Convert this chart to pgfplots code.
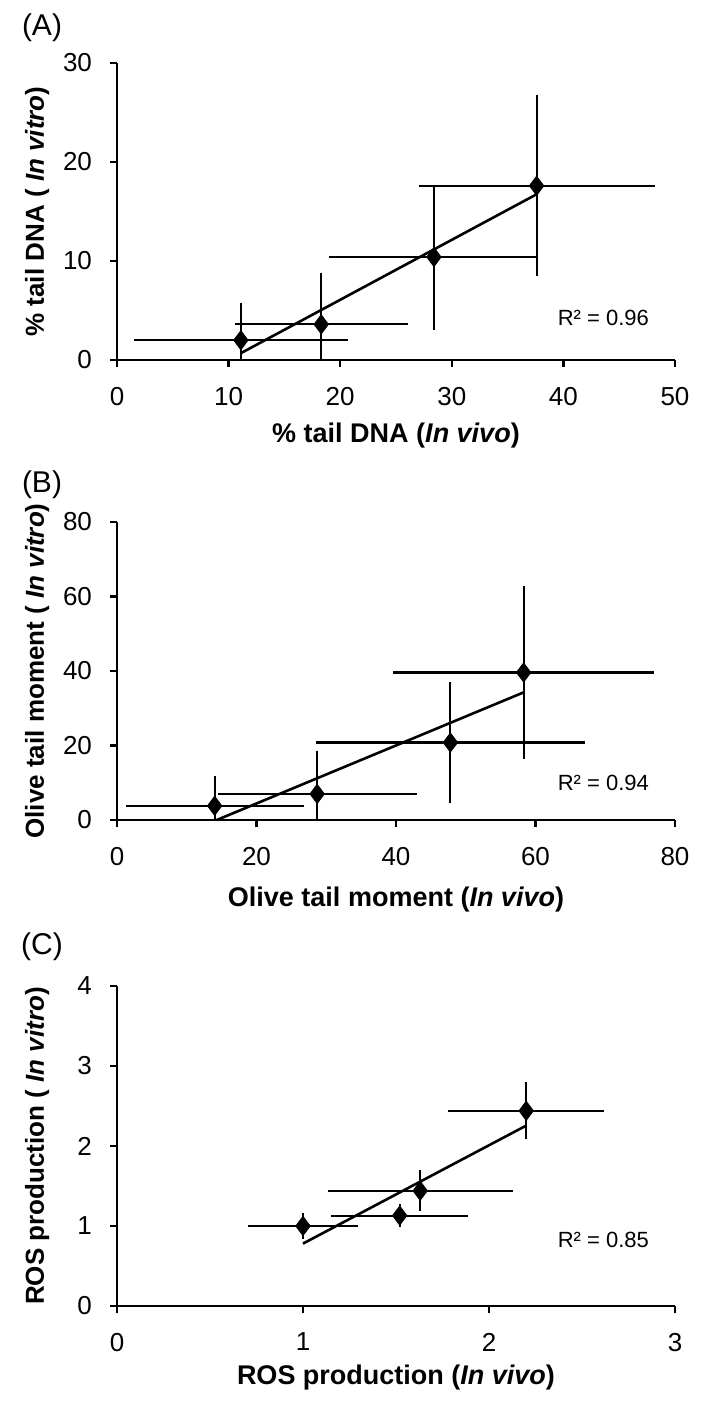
\documentclass[border=0pt]{standalone}
\usepackage{fontspec}
\setmainfont{Liberation Sans}
\usepackage{pgfplots}
\pgfplotsset{compat=1.18}

\pgfplotstableread{
x y ex ey
11.1 2.0 9.1 3.2
18.3 3.6 7.3 4.7
28.4 10.4 8.9 6.8
37.6 17.6 10.1 8.6
}\dataA
\pgfplotstableread{
x y ex ey
14.0 3.8 12.0 6.7
28.7 7.0 13.5 10.0
47.8 20.8 18.5 14.9
58.3 39.6 18.0 21.8
}\dataB
\pgfplotstableread{
x y ex ey
1.00 1.00 0.27 0.10
1.52 1.13 0.34 0.08
1.63 1.44 0.47 0.19
2.20 2.44 0.39 0.29
}\dataC

\newcommand{\ylabfont}{\fontsize{13}{15}\selectfont\bfseries}
\newcommand{\xlabfont}{\fontsize{13.5}{16}\selectfont\bfseries}
\tikzset{rsq/.style={font=\fontsize{11}{13}\selectfont, anchor=east},
  plab/.style={font=\fontsize{15}{17}\selectfont}}
\pgfplotsset{
  panel/.style={
    scale only axis, width=279pt,
    axis lines=left, axis line style={-, line width=1.1pt, black},
    tick align=outside, major tick length=3.5pt, tick style={black, line width=1.1pt},
    xmin=0, ymin=0,
    tick label style={font=\fontsize{13}{15}\selectfont},
    xticklabel style={yshift=-6.5pt},
    yticklabel style={xshift=-5.5pt},
    /pgf/number format/assume math mode=true,
    every axis y label/.style={at={(axis description cs:-0.143,0.5)}, rotate=90, anchor=center, font=\ylabfont},
    clip=true,
  },
  pts/.style={only marks, mark=diamond*, mark size=4.8pt, black, mark options={fill=black},
    error bars/.cd, x dir=both, x explicit, y dir=both, y explicit,
    error bar style={line width=1.1pt, black},
    error mark options={black, line width=1.1pt, mark size=2.6pt}},
  trend/.style={black, line width=1.3pt, no marks},
}

\begin{document}
\begin{tikzpicture}
\useasboundingbox (0pt,0pt) rectangle (359.5pt,702.5pt);

\node[plab] at (21pt,688.5pt) {(A)};
\node[plab] at (21pt,460pt) {(B)};
\node[plab] at (21pt,229pt) {(C)};

\begin{axis}[panel, at={(58.5pt,522.5pt)}, anchor=south west, height=148.5pt,
  xmax=50, ymax=30, xtick={0,10,...,50}, ytick={0,10,20,30},
  every axis x label/.style={at={(axis description cs:0.5,0)}, anchor=center, yshift=-38pt, font=\xlabfont},
  xlabel={\% tail DNA (\textit{In vivo})},
  ylabel={\% tail DNA ( \textit{In vitro})}]
\addplot+[pts] table[x=x, y=y, x error=ex, y error=ey] {\dataA};
\addplot[trend] coordinates {(11.1,0.69) (37.6,16.74)};
\node[rsq] at (axis description cs:0.966,0.14) {R² = 0.96};
\end{axis}

\begin{axis}[panel, at={(58.5pt,292.5pt)}, anchor=south west, height=149pt,
  xmax=80, ymax=80, xtick={0,20,...,80}, ytick={0,20,...,80},
  every axis x label/.style={at={(axis description cs:0.5,0)}, anchor=center, yshift=-40pt, font=\xlabfont},
  xlabel={Olive tail moment (\textit{In vivo})},
  ylabel={Olive tail moment ( \textit{In vitro})}]
\addplot+[pts] table[x=x, y=y, x error=ex, y error=ey] {\dataB};
\addplot[trend] coordinates {(14.0,-0.24) (58.3,34.26)};
\node[rsq] at (axis description cs:0.966,0.125) {R² = 0.94};
\end{axis}

\begin{axis}[panel, at={(58.5pt,49.5pt)}, anchor=south west, height=160pt,
  xmax=3, ymax=4, xtick={0,1,2,3}, ytick={0,1,2,3,4},
  every axis x label/.style={at={(axis description cs:0.5,0)}, anchor=center, yshift=-36pt, font=\xlabfont},
  xlabel={ROS production (\textit{In vivo})},
  ylabel={ROS production ( \textit{In vitro})}]
\addplot+[pts] table[x=x, y=y, x error=ex, y error=ey] {\dataC};
\addplot[trend] coordinates {(1.0,0.78) (2.2,2.255)};
\node[rsq] at (axis description cs:0.966,0.206) {R² = 0.85};
\end{axis}
\end{tikzpicture}
\end{document}
